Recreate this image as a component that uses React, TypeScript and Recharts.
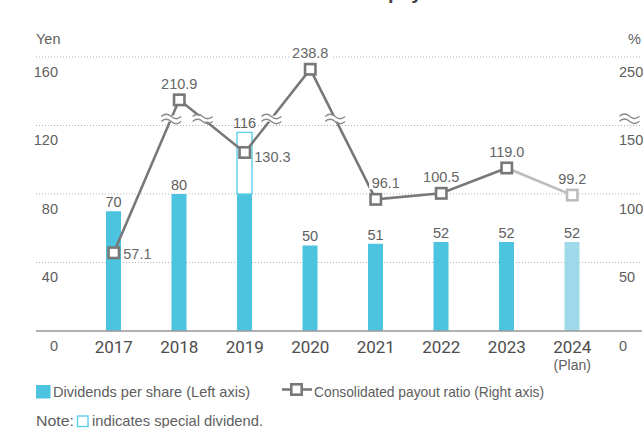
import React from 'react';
import {
  ComposedChart,
  Bar,
  Line,
  XAxis,
  YAxis,
  CartesianGrid,
  Cell,
  ReferenceDot,
} from 'recharts';

// ---------------- data ----------------
const years = ['2017', '2018', '2019', '2020', '2021', '2022', '2023', '2024'];
const planYearNote = '(Plan)';
const dividendsPerShare = [70, 80, 80, 50, 51, 52, 52, 52];
const specialDividend = [0, 0, 36, 0, 0, 0, 0, 0];
const payoutRatio = [57.1, 210.9, 130.3, 238.8, 96.1, 100.5, 119.0, 99.2];
const leftTickValues = [0, 40, 80, 120, 160];
const rightTickValues = [0, 50, 100, 150, 250];
const planIndex = 7;

const titleStart = 'Dividends and consolidated';
const titleEnd = 'payout ratio';
const leftUnit = 'Yen';
const rightUnit = '%';
const legendBars = 'Dividends per share (Left axis)';
const legendLine = 'Consolidated payout ratio (Right axis)';
const notePrefix = 'Note:';
const noteText = 'indicates special dividend.';

// label placement for the payout-ratio labels (style config)
const ratioLabelPlacement = ['right', 'top', 'rightLow', 'top', 'topRight', 'top', 'top', 'top'];

// ---------------- styles ----------------
const SANS = '"Liberation Sans", Arial, sans-serif';
const TEXT = '#5e5e5e';
const BAR = '#4cc4df';
const BAR_PLAN = '#9fd9ea';
const SPECIAL = '#5bcfe9';
const LINE = '#787878';
const LINE_PLAN = '#bdbdbd';

// Right axis is broken above 150 %: the upper band (150-250) is compressed.
const BREAK_FROM = 150;
const AXIS_TOP_VALUE = 250;
const AXIS_TOP_PLOT = 200;
const UPPER_RATE = 0.8;
const toPlot = (v: number) =>
  v <= BREAK_FROM ? v : AXIS_TOP_PLOT - (AXIS_TOP_VALUE - v) * UPPER_RATE;
const BREAK_LEVEL = 155;

const rows = years.map((year, i) => ({
  idx: i,
  year,
  dividend: dividendsPerShare[i],
  special: specialDividend[i],
  actual: i < planIndex ? toPlot(payoutRatio[i]) : null,
  plan: i >= planIndex - 1 ? toPlot(payoutRatio[i]) : null,
}));

const crossings: number[] = [];
for (let i = 0; i < planIndex - 1; i++) {
  const a = rows[i].actual as number;
  const b = rows[i + 1].actual as number;
  if ((a - BREAK_LEVEL) * (b - BREAK_LEVEL) < 0) {
    crossings.push(i + (BREAK_LEVEL - a) / (b - a));
  }
}

const rightPlotTicks = rightTickValues.map(toPlot);

// ---------------- pieces ----------------
const BreakMark = ({ cx, cy, bg = true }: any) => {
  if (cx == null || cy == null) return <g />;
  const w = 10;
  const wave = (yy: number) =>
    `M ${cx - w} ${yy} Q ${cx - w / 2} ${yy - 4.5} ${cx} ${yy} T ${cx + w} ${yy}`;
  return (
    <g>
      {bg && <rect x={cx - w - 1} y={cy - 3} width={2 * w + 2} height={6} fill="#fff" />}
      <path d={wave(cy - 2.2)} fill="none" stroke="#8a8a8a" strokeWidth={1.3} />
      <path d={wave(cy + 2.8)} fill="none" stroke="#8a8a8a" strokeWidth={1.3} />
    </g>
  );
};

const YearTick = (props: any) => {
  const { x, y, payload } = props;
  const i = payload.value;
  return (
    <g>
      <text x={x} y={y + 22} textAnchor="middle" fontFamily="Roboto, sans-serif" fontSize={17} fill="#4d4d4d">
        {years[i]}
      </text>
      {i === planIndex && (
        <text x={x} y={y + 39} textAnchor="middle" fontFamily={SANS} fontSize={14} fill={TEXT}>
          {planYearNote}
        </text>
      )}
    </g>
  );
};

const LeftTick = (props: any) => {
  const { x, y, payload } = props;
  return (
    <text x={x + 22} y={y + 19.5} textAnchor="end" fontFamily={SANS} fontSize={14.5} fill={TEXT}>
      {payload.value}
    </text>
  );
};

const RightTick = (props: any) => {
  const { x, y, payload } = props;
  const k = rightPlotTicks.indexOf(payload.value);
  const label = k >= 0 ? rightTickValues[k] : payload.value;
  return (
    <g>
      <text x={x - 23} y={y + 19.5} textAnchor="start" fontFamily={SANS} fontSize={14.5} fill={TEXT}>
        {label}
      </text>
      {label === BREAK_FROM && <BreakMark cx={x - 12.5} cy={y - 7} bg={false} />}
    </g>
  );
};

const renderBarLabel = (props: any) => {
  const { x, y, width, height, index } = props;
  if (x == null || y == null) return <g key={`bl${index}`} />;
  const d = dividendsPerShare[index];
  const s = specialDividend[index];
  const top = y - (s && d ? (height * s) / d : 0);
  return (
    <text
      key={`bl${index}`}
      x={x + width / 2}
      y={top - 4}
      textAnchor="middle"
      fontFamily={SANS}
      fontSize={14.5}
      fill={TEXT}
    >
      {d + s}
    </text>
  );
};

const makeRatioLabel = (plan: boolean) => (props: any) => {
  const { x, y, index } = props;
  if (x == null || y == null) return <g key={`l${index}`} />;
  if (plan ? index !== planIndex : index >= planIndex) return <g key={`l${index}`} />;
  const place = ratioLabelPlacement[index];
  const text = payoutRatio[index].toFixed(1);
  let tx = x;
  let ty = y - 11;
  let anchor = 'middle';
  if (place === 'right') {
    tx = x + 9.5;
    ty = y + 6;
    anchor = 'start';
  } else if (place === 'rightLow') {
    tx = x + 9.5;
    ty = y + 10;
    anchor = 'start';
  } else if (place === 'topRight') {
    tx = x + 10;
  }
  const w = text.length * 7.8;
  const bx = anchor === 'middle' ? tx - w / 2 - 1 : tx - 1;
  return (
    <g key={`l${index}`}>
      <rect x={bx} y={ty - 11} width={w + 2} height={12} fill="#fff" />
      <text x={tx} y={ty} textAnchor={anchor} fontFamily={SANS} fontSize={14.5} fill="#666">
        {text}
      </text>
    </g>
  );
};

const makeMarker = (plan: boolean) => (props: any) => {
  const { cx, cy, index } = props;
  if (cx == null || cy == null) return <g key={`m${index}`} />;
  if (plan ? index !== planIndex : index >= planIndex) return <g key={`m${index}`} />;
  return (
    <rect
      key={`m${index}`}
      x={cx - 5.2}
      y={cy - 5.2}
      width={10.4}
      height={10.4}
      fill="#fff"
      stroke={plan ? LINE_PLAN : LINE}
      strokeWidth={2.6}
    />
  );
};

export default function App() {
  return (
    <div style={{ position: 'absolute', left: 0, top: 0, width: 643, height: 428, background: '#fff', overflow: 'hidden' }}>
      <ComposedChart
        width={643}
        height={428}
        data={rows}
        margin={{ top: 57, right: 0, bottom: 57, left: 35 }}
      >
        <CartesianGrid
          vertical={false}
          yAxisId="left"
          stroke="#b3b3b3"
          strokeDasharray="1 2"
        />
        <XAxis
          dataKey="idx"
          type="number"
          domain={[-0.5, 7.5]}
          ticks={years.map((_, i) => i)}
          padding={{ left: 45, right: 37 }}
          height={40}
          interval={0}
          axisLine={{ stroke: '#9a9a9a', strokeWidth: 1.6 }}
          tickLine={false}
          tickSize={0}
          tickMargin={0}
          tick={(p: any) => <YearTick {...p} />}
        />
        <YAxis
          yAxisId="left"
          domain={[0, 160]}
          ticks={leftTickValues}
          width={1}
          interval={0}
          axisLine={false}
          tickLine={false}
          tickSize={0}
          tickMargin={0}
          tick={(p: any) => <LeftTick {...p} />}
        />
        <YAxis
          yAxisId="right"
          orientation="right"
          domain={[0, AXIS_TOP_PLOT]}
          ticks={rightPlotTicks}
          width={1}
          interval={0}
          axisLine={false}
          tickLine={false}
          tickSize={0}
          tickMargin={0}
          tick={(p: any) => <RightTick {...p} />}
        />
        <Bar
          yAxisId="left"
          dataKey="dividend"
          stackId="d"
          barSize={15}
          isAnimationActive={false}
          label={renderBarLabel}
        >
          {rows.map((r, i) => (
            <Cell key={`c${i}`} fill={i === planIndex ? BAR_PLAN : BAR} />
          ))}
        </Bar>
        <Bar
          yAxisId="left"
          dataKey="special"
          stackId="d"
          barSize={15}
          fill="#fff"
          stroke={SPECIAL}
          strokeWidth={1.4}
          isAnimationActive={false}
        />
        <Line
          yAxisId="right"
          dataKey="plan"
          stroke={LINE_PLAN}
          strokeWidth={2.6}
          dot={makeMarker(true)}
          activeDot={false}
          label={makeRatioLabel(true)}
          isAnimationActive={false}
        />
        <Line
          yAxisId="right"
          dataKey="actual"
          stroke={LINE}
          strokeWidth={2.6}
          dot={makeMarker(false)}
          activeDot={false}
          label={makeRatioLabel(false)}
          isAnimationActive={false}
        />
        {crossings.map((c, i) => (
          <ReferenceDot
            key={`b${i}`}
            yAxisId="right"
            x={c}
            y={BREAK_LEVEL}
            ifOverflow="visible"
            shape={(p: any) => <BreakMark {...p} />}
          />
        ))}
      </ComposedChart>
      <svg
        width={643}
        height={428}
        style={{ position: 'absolute', left: 0, top: 0, pointerEvents: 'none' }}
      >
        <text y={-1} fontFamily={SANS} fontWeight="bold" fontSize={20} fill="#444">
          <tspan x={383} textAnchor="end">{titleStart}</tspan>
          <tspan x={388} textAnchor="start">{titleEnd}</tspan>
        </text>
        <text x={36} y={43.5} fontFamily={SANS} fontSize={14.5} fill={TEXT}>{leftUnit}</text>
        <text x={641} y={43.5} textAnchor="end" fontFamily={SANS} fontSize={14.5} fill={TEXT}>{rightUnit}</text>

        <rect x={36} y={385} width={14.5} height={13.5} fill={BAR} />
        <text x={53} y={397} fontFamily={SANS} fontSize={15} textLength={197} lengthAdjust="spacingAndGlyphs" fill={TEXT}>{legendBars}</text>
        <line x1={282} x2={312} y1={389.5} y2={389.5} stroke={LINE} strokeWidth={2.6} />
        <rect x={291.3} y={384.3} width={10.4} height={10.4} fill="#fff" stroke={LINE} strokeWidth={2.6} />
        <text x={314} y={397} fontFamily={SANS} fontSize={15} textLength={230} lengthAdjust="spacingAndGlyphs" fill={TEXT}>{legendLine}</text>

        <text x={36} y={426} fontFamily={SANS} fontSize={15} textLength={38} lengthAdjust="spacingAndGlyphs" fill={TEXT}>{notePrefix}</text>
        <rect x={77.5} y={416} width={10.5} height={10.5} fill="#fff" stroke={SPECIAL} strokeWidth={1.4} />
        <text x={92} y={426} fontFamily={SANS} fontSize={15} textLength={171} lengthAdjust="spacingAndGlyphs" fill={TEXT}>{noteText}</text>
      </svg>
    </div>
  );
}
